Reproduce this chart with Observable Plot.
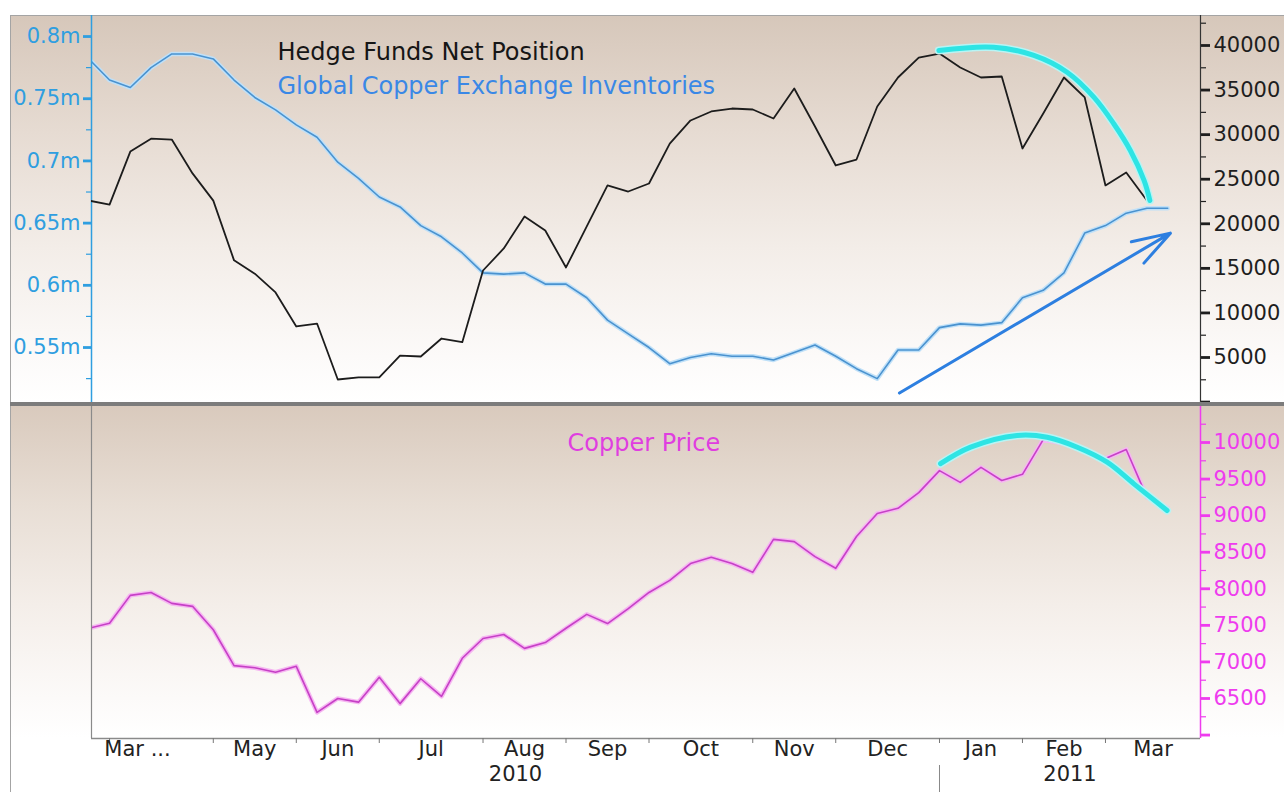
<!DOCTYPE html>
<html>
<head>
<meta charset="utf-8">
<script src="https://cdn.jsdelivr.net/npm/d3@7"></script>
<script src="https://cdn.jsdelivr.net/npm/@observablehq/plot@0.6"></script>
<style>
  html, body { margin: 0; padding: 0; background: #ffffff; }
  #chart { position: relative; width: 1284px; height: 792px; overflow: hidden; font-family: "DejaVu Sans", sans-serif; }
  #chart svg { position: absolute; left: 0; top: 0; background: transparent !important; overflow: visible; }
  .deco { position: absolute; }
</style>
</head>
<body>
<div id="chart">
  <div class="deco" style="left:10px;top:15px;width:1274px;height:388px;background:linear-gradient(#d6c7ba 0%,#e6dbd2 30%,#f3ede8 60%,#fcfaf9 88%,#ffffff 100%);"></div>
  <div class="deco" style="left:10px;top:406px;width:1274px;height:332px;background:linear-gradient(#d9cabd 0%,#e8ded5 30%,#f4eee9 60%,#fcfaf9 88%,#ffffff 100%);"></div>
  <div class="deco" style="left:10px;top:15px;width:1274px;height:1px;background:#a4a4a4;"></div>
  <div class="deco" style="left:10px;top:15px;width:1px;height:777px;background:#a4a4a4;"></div>
</div>
<script>
// ---- data (weekly, Fridays, 26 Mar 2010 – 25 Mar 2011) ----
const dates = d3.utcFriday.range(new Date(Date.UTC(2010, 2, 26)), new Date(Date.UTC(2011, 2, 26)));

// Hedge funds net position (contracts), right axis of top panel
const hedgeFunds = [22600, 22150, 28100, 29550, 29450, 25650, 22600, 15900, 14400, 12300,
  8480, 8810, 2530, 2760, 2760, 5220, 5110, 7130, 6720, 14760,
  17230, 20820, 19250, 15100, 19700, 24300, 23620, 24520, 29000, 31590,
  32600, 32930, 32820, 31810, 35180, 30910, 26540, 27210, 33160, 36410,
  38650, 39100, 37530, 36410, 36520, 28450, 32370, 36410, 34170, 24300,
  25750, 22610];

// Global copper exchange inventories (millions of tonnes), left axis of top panel
const inventories = [0.782, 0.765, 0.759, 0.775, 0.786, 0.786, 0.782, 0.765, 0.751, 0.741,
  0.729, 0.719, 0.699, 0.686, 0.671, 0.663, 0.648, 0.639, 0.626, 0.610,
  0.609, 0.610, 0.601, 0.601, 0.590, 0.572, 0.561, 0.550, 0.537, 0.542,
  0.545, 0.543, 0.543, 0.540, 0.546, 0.552, 0.543, 0.533, 0.525, 0.548,
  0.548, 0.566, 0.569, 0.568, 0.570, 0.590, 0.596, 0.610, 0.642, 0.648,
  0.658, 0.662, 0.662];

// Copper price (USD/t), bottom panel
const copperPrice = [7460, 7530, 7910, 7950, 7800, 7760, 7440, 6950, 6920, 6860,
  6940, 6310, 6500, 6450, 6790, 6430, 6770, 6530, 7050, 7320,
  7375, 7185, 7265, 7460, 7650, 7525, 7730, 7950, 8115, 8345,
  8430, 8345, 8225, 8675, 8645, 8440, 8280, 8715, 9030, 9100,
  9315, 9615, 9455, 9660, 9480, 9565, 10040, 9985, 9890, 9780,
  9905, 9250, 9100];

// axis ticks
const leftTicks = [0.55, 0.6, 0.65, 0.7, 0.75, 0.8];
const leftMinor = [0.525, 0.575, 0.625, 0.675, 0.725, 0.775];
const rightTicks = [0, 5000, 10000, 15000, 20000, 25000, 30000, 35000, 40000];
const rightMinor = [2500, 7500, 12500, 17500, 22500, 27500, 32500, 37500, 42500];
const priceTicks = [6000, 6500, 7000, 7500, 8000, 8500, 9000, 9500, 10000];
const priceMinor = [6250, 6750, 7250, 7750, 8250, 8750, 9250, 9750, 10250];
const monthLabels = ["Mar ...", "May", "Jun", "Jul", "Aug", "Sep", "Oct", "Nov", "Dec", "Jan", "Feb", "Mar"];
const yearLabels = ["2010", "2011"];

// legend labels
const legendTop = ["Hedge Funds Net Position", "Global Copper Exchange Inventories"];
const legendBottom = ["Copper Price"];

// hand-drawn annotations (week index, value)
const arcTopIdx = [40.97, 43.62, 45.55, 47.15, 48.44, 49.4, 50.2, 50.86, 51.14];
const arcTopVal = [39440, 39810, 38880, 37000, 34200, 31220, 28220, 24860, 22610];
const arcBotIdx = [41.05, 42.5, 44.74, 46.19, 47.64, 49.08, 50.37, 51.97];
const arcBotVal = [9710, 9936, 10096, 10072, 9936, 9731, 9435, 9070];
const arrowFrom = [39.07, 1010];
const arrowTo = [52.13, 18950];

// ---- layout ----
const W = 1284;
const xDomain = [0.13, 53.58];
const topDomainLeft = [0.505, 0.8169];
const topDomainRight = [-160, 43365];
const botDomain = [5953, 10506];
const font = "DejaVu Sans";
const blue = "#2f9ee0";
const magenta = "#ee3cee";
const chart = document.getElementById("chart");

const idx = (d, i) => i;
const monthTicks = dates.map((d, i) => i).filter(i => i > 0 && dates[i].getUTCMonth() !== dates[i - 1].getUTCMonth());
const janIdx = monthTicks.find(i => dates[i].getUTCMonth() === 0);
const monthPos = monthLabels.map((label, k) => ({
  label,
  x: k === 0 ? monthTicks[0] - 0.25 : (monthTicks[k] + (k + 1 < monthTicks.length ? monthTicks[k + 1] : xDomain[1])) / 2
}));
const yearPos = [
  {label: yearLabels[0], x: (xDomain[0] + janIdx) / 2},
  {label: yearLabels[1], x: (janIdx + xDomain[1]) / 2}
];
const topArc = arcTopIdx.map((x, k) => ({x, y: arcTopVal[k]}));
const botArc = arcBotIdx.map((x, k) => ({x, y: arcBotVal[k]}));

const baseStyle = {background: "transparent", fontFamily: font, fontSize: "21px", overflow: "visible"};

// top panel, left scale: inventories
const pTopLeft = Plot.plot({
  width: W, height: 403,
  marginLeft: 91, marginRight: 84, marginTop: 15, marginBottom: 0,
  x: {domain: xDomain, axis: null},
  y: {domain: topDomainLeft, axis: null},
  style: baseStyle,
  marks: [
    Plot.lineY(inventories, {x: idx, y: d => d, stroke: "#bfe0f8", strokeWidth: 4.5, clip: true}),
    Plot.lineY(inventories, {x: idx, y: d => d, stroke: "#4a92cf", strokeWidth: 1.6, clip: true}),
    Plot.axisY(leftMinor, {anchor: "left", label: null, tickSize: 5, tickFormat: () => "", stroke: blue, strokeWidth: 1.2}),
    Plot.axisY(leftTicks, {anchor: "left", label: null, tickSize: 8, tickPadding: 3, tickFormat: d => d + "m", color: blue, strokeWidth: 2.8, fontSize: 21}),
    Plot.ruleX([xDomain[0]], {stroke: blue, strokeWidth: 1.5}),
    Plot.text([legendTop[0]], {frameAnchor: "top-left", dx: 186, dy: 27, text: d => d, fontSize: 24, fill: "#161616", textAnchor: "start", lineAnchor: "top"}),
    Plot.text([legendTop[1]], {frameAnchor: "top-left", dx: 186, dy: 61, text: d => d, fontSize: 24, fill: "#3a88e6", textAnchor: "start", lineAnchor: "top"})
  ]
});

// top panel, right scale: hedge funds + annotations
const pTopRight = Plot.plot({
  width: W, height: 403,
  marginLeft: 91, marginRight: 84, marginTop: 15, marginBottom: 0,
  x: {domain: xDomain, axis: null},
  y: {domain: topDomainRight, axis: null},
  style: baseStyle,
  marks: [
    Plot.lineY(hedgeFunds, {x: idx, y: d => d, stroke: "#1c1c1c", strokeWidth: 1.8, clip: true}),
    Plot.line(topArc, {x: "x", y: "y", curve: "catmull-rom", stroke: "#b8f4f4", strokeWidth: 8, strokeLinecap: "round"}),
    Plot.line(topArc, {x: "x", y: "y", curve: "catmull-rom", stroke: "#2ee4e4", strokeWidth: 5, strokeLinecap: "round"}),
    Plot.arrow([{x1: arrowFrom[0], y1: arrowFrom[1], x2: arrowTo[0], y2: arrowTo[1]}], {x1: "x1", y1: "y1", x2: "x2", y2: "y2", stroke: "#2d7fe0", strokeWidth: 3, headLength: 20, headAngle: 36}),
    Plot.axisY(rightMinor, {anchor: "right", label: null, tickSize: 5, tickFormat: () => "", stroke: "#222", strokeWidth: 1.2}),
    Plot.axisY(rightTicks, {anchor: "right", label: null, tickSize: 9, tickPadding: 4, tickFormat: d => d === 0 ? "" : String(d), color: "#1e1e1e", strokeWidth: 2.8, fontSize: 21}),
    Plot.ruleX([xDomain[1]], {stroke: "#333", strokeWidth: 1.2})
  ]
});

// bottom panel: copper price
const yInv = d3.scaleLinear().domain(botDomain).range([738, 405]);
const pBottom = Plot.plot({
  width: W, height: 792,
  marginLeft: 91, marginRight: 84, marginTop: 405, marginBottom: 54,
  x: {domain: xDomain, axis: null},
  y: {domain: botDomain, axis: null},
  style: baseStyle,
  marks: [
    Plot.lineY(copperPrice, {x: idx, y: d => d, stroke: "#f6b6f2", strokeWidth: 4.5, clip: true}),
    Plot.lineY(copperPrice, {x: idx, y: d => d, stroke: "#c640c6", strokeWidth: 1.6, clip: true}),
    Plot.line(botArc, {x: "x", y: "y", curve: "catmull-rom", stroke: "#b8f4f4", strokeWidth: 8, strokeLinecap: "round"}),
    Plot.line(botArc, {x: "x", y: "y", curve: "catmull-rom", stroke: "#2ee4e4", strokeWidth: 5, strokeLinecap: "round"}),
    Plot.ruleX([xDomain[0]], {stroke: "#8a8a8a", strokeWidth: 1.2}),
    Plot.ruleY([botDomain[0]], {stroke: "#8a8a8a", strokeWidth: 1.5}),
    Plot.axisX(monthTicks, {anchor: "bottom", label: null, tickSize: 5, tickFormat: () => "", stroke: "#777", strokeWidth: 1}),
    Plot.text(monthPos.slice(0, 1), {x: "x", text: "label", frameAnchor: "bottom", dy: 17, textAnchor: "start", fill: "#222", fontSize: 21}),
    Plot.text(monthPos.slice(1), {x: "x", text: "label", frameAnchor: "bottom", dy: 17, textAnchor: "middle", fill: "#222", fontSize: 21}),
    Plot.text(yearPos, {x: "x", text: "label", frameAnchor: "bottom", dy: 42, textAnchor: "middle", fill: "#222", fontSize: 21}),
    Plot.ruleX([janIdx], {y1: yInv.invert(765), y2: yInv.invert(792), stroke: "#888", strokeWidth: 1}),
    Plot.axisY(priceMinor, {anchor: "right", label: null, tickSize: 5, tickFormat: () => "", stroke: magenta, strokeWidth: 1.2}),
    Plot.axisY(priceTicks, {anchor: "right", label: null, tickSize: 9, tickPadding: 4, tickFormat: d => d === 6000 ? "" : String(d), color: magenta, strokeWidth: 2.8, fontSize: 21}),
    Plot.ruleX([xDomain[1]], {stroke: magenta, strokeWidth: 1.5}),
    Plot.text(legendBottom, {frameAnchor: "top-left", dx: 476, dy: 28, text: d => d, fontSize: 24, fill: "#e03ee0", textAnchor: "start", lineAnchor: "top"})
  ]
});

chart.appendChild(pTopLeft);
chart.appendChild(pTopRight);
chart.appendChild(pBottom);

const sep = document.createElement("div");
sep.className = "deco";
sep.style.cssText = "left:10px;top:402px;width:1274px;height:4px;background:#7c7c7c;";
chart.appendChild(sep);
</script>
</body>
</html>
